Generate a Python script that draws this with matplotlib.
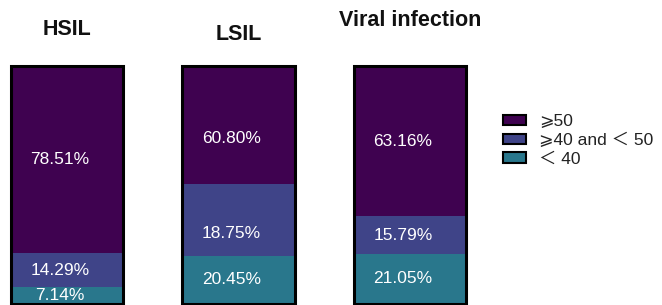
import numpy as np
import matplotlib
matplotlib.use("Agg")
import matplotlib.pyplot as plt
from matplotlib.patches import Patch

# groups and categories
groups = ["HSIL", "LSIL", "Viral infection"]
categories = ["⩾50", "⩾40 and ＜ 50", "＜ 40"]
colors = ["#3f0250", "#3f4488", "#29778c"]

# printed percentages (rows = categories, cols = groups)
pct = [
    [78.51, 60.80, 63.16],
    [14.29, 18.75, 15.79],
    [7.14, 20.45, 21.05],
]
# segment heights as drawn in the picture (the LSIL bar is drawn
# differently from its printed values)
drawn = [
    [78.51, 49.6, 63.16],
    [14.29, 30.0, 15.79],
    [7.14, 20.4, 21.05],
]

fig = plt.figure(figsize=(6.62, 3.05), dpi=100)
ax = fig.add_axes([0, 0, 1, 1])
ax.axis("off")

x = np.arange(len(groups))
w = 0.655
ax.set_xlim(-0.39, 3.47)
ax.set_ylim(-0.42, 127.9)

font = ["Liberation Sans", "DejaVu Sans", "Noto Sans CJK SC"]

#stack from the bottom: last category first
bottom = np.zeros(len(groups))
lbottom = np.zeros(len(groups))
for i in reversed(range(len(categories))):
	h = np.array(drawn[i])
	p = np.array(pct[i])
	ax.bar(x, h, w, bottom=bottom, color=colors[i], edgecolor="none", zorder=2)
	#labels sit where the printed value would put them
	for j in range(len(groups)):
		ax.text(x[j] - 0.04, lbottom[j] + p[j] / 2, "%.2f%%" % p[j],
			ha="center", va="center", color="white", fontsize=12.5,
			family=font, zorder=4)
	bottom = bottom + h
	lbottom = lbottom + p

#outline of each bar
ax.bar(x, bottom, w, fill=False, edgecolor="black", linewidth=2.2, zorder=3,
	clip_on=False)

#group titles sit at different heights
title_y = [115.4, 113.3, 119.2]
for j, g in enumerate(groups):
	ax.text(x[j], title_y[j], g, ha="center", va="center", fontsize=15.5,
		fontweight="bold", family=["Liberation Sans Narrow", "Liberation Sans"],
		color="#111111")

handles = [Patch(facecolor=colors[i], edgecolor="black", linewidth=1.5)
	for i in range(len(categories))]
leg = ax.legend(handles, categories, loc="center left",
	bbox_to_anchor=(0.76, 0.54), frameon=False, borderaxespad=0, borderpad=0,
	handlelength=1.3, handleheight=0.55, handletextpad=0.75,
	labelspacing=0.2, prop={"family": font, "size": 12.5})
for t in leg.get_texts():
	t.set_color("#222222")

fig.savefig("out.png", dpi=100)
